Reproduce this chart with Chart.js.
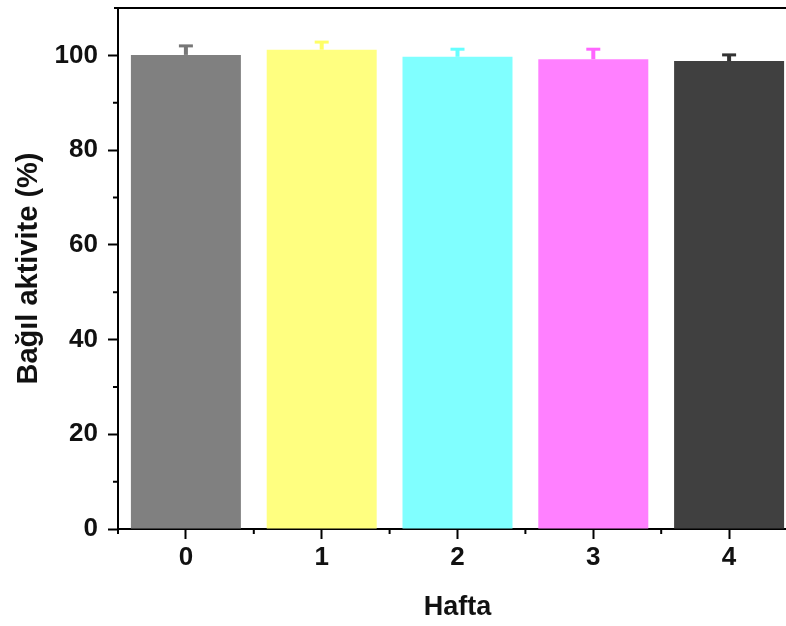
<!DOCTYPE html>
<html>
<head>
<meta charset="utf-8">
<script src="https://cdn.jsdelivr.net/npm/chart.js@4"></script>
<style>
  html, body { margin: 0; padding: 0; background: #fff; }
  #wrap { width: 786px; height: 626px; overflow: hidden; }
</style>
</head>
<body>
<div id="wrap"><canvas id="activityChart" width="810" height="626"></canvas></div>
<script>
// weeks and relative activity
const weeks = ["0", "1", "2", "3", "4"];
const activity = [100.1, 101.2, 99.7, 99.2, 98.8];
const activityErr = [1.9, 1.6, 1.6, 2.1, 1.3];
const barColors = ["#808080", "#ffff80", "#80ffff", "#ff80ff", "#404040"];
const errColors = ["#777777", "#ffff66", "#66ffff", "#ff66ff", "#333333"];
const yTicks = [0, 20, 40, 60, 80, 100];
const yMinorTicks = [10, 30, 50, 70, 90];

const tickFont = { family: "'Liberation Sans', Arial, sans-serif", size: 26, weight: "bold", lineHeight: 1 };
const titleFont = { family: "'Liberation Sans', Arial, sans-serif", size: 27, weight: "bold", lineHeight: 1 };
const yTitleFont = { family: "'Liberation Sans', Arial, sans-serif", size: 29, weight: "bold", lineHeight: 1 };

// error bars (upper half only), minor ticks and top frame line
const extras = {
  id: "extras",
  afterDatasetsDraw(chart) {
    const ctx = chart.ctx;
    const y = chart.scales.y;
    const meta = chart.getDatasetMeta(0);
    ctx.save();
    meta.data.forEach((bar, i) => {
      const top = y.getPixelForValue(activity[i] + activityErr[i]);
      ctx.strokeStyle = errColors[i];
      ctx.lineWidth = 4;
      ctx.beginPath();
      ctx.moveTo(bar.x, bar.y);
      ctx.lineTo(bar.x, top);
      ctx.stroke();
      ctx.lineWidth = 3;
      ctx.beginPath();
      ctx.moveTo(bar.x - 7, top);
      ctx.lineTo(bar.x + 7, top);
      ctx.stroke();
    });
    ctx.restore();
  },
  afterDraw(chart) {
    const ctx = chart.ctx;
    const { left, right, top, bottom } = chart.chartArea;
    const x = chart.scales.x;
    const y = chart.scales.y;
    const step = x.getPixelForValue(1) - x.getPixelForValue(0);
    ctx.save();
    ctx.strokeStyle = "#000";
    ctx.lineWidth = 2;
    ctx.beginPath();
    ctx.moveTo(left - 4, top);
    ctx.lineTo(right, top);
    ctx.stroke();
    ctx.beginPath();
    yMinorTicks.forEach(v => {
      const py = y.getPixelForValue(v);
      ctx.moveTo(left, py);
      ctx.lineTo(left - 5, py);
    });
    for (let i = 0; i <= weeks.length; i++) {
      const px = x.getPixelForValue(0) + (i - 0.5) * step;
      ctx.moveTo(px, bottom);
      ctx.lineTo(px, bottom + 5);
    }
    ctx.stroke();
    ctx.restore();
  }
};

const ctx = document.getElementById("activityChart").getContext("2d");
new Chart(ctx, {
  type: "bar",
  data: {
    labels: weeks,
    datasets: [
      {
        data: activity,
        backgroundColor: barColors,
        borderWidth: 0,
        barPercentage: 0.81,
        categoryPercentage: 1
      }
    ]
  },
  options: {
    responsive: false,
    animation: false,
    layout: { padding: { left: 0, top: 8, right: 13, bottom: 0 } },
    plugins: {
      legend: { display: false },
      tooltip: { enabled: false }
    },
    scales: {
      x: {
        offset: true,
        afterFit: s => { s.height = 97; s.paddingLeft = 0; s.paddingRight = 0; },
        grid: { offset: false, drawOnChartArea: false, tickLength: 10, tickWidth: 2, tickColor: "#000" },
        border: { display: true, color: "#000", width: 2 },
        ticks: { color: "#111", font: tickFont, padding: 6, maxRotation: 0 },
        title: { display: true, text: "Hafta", color: "#111", font: titleFont, padding: { top: 0, bottom: 5 } }
      },
      y: {
        min: 0,
        max: 110,
        afterFit: s => { s.width = 118; s.paddingTop = 0; s.paddingBottom = 0; },
        afterBuildTicks: s => { s.ticks = yTicks.map(v => ({ value: v })); },
        grid: { drawOnChartArea: false, tickLength: 10, tickWidth: 2, tickColor: "#000" },
        border: { display: true, color: "#000", width: 2 },
        ticks: { color: "#111", font: tickFont, padding: 10 },
        title: { display: true, text: "Bağıl aktivite (%)", color: "#111", font: yTitleFont, padding: { top: 14, bottom: 0 } }
      }
    }
  },
  plugins: [extras]
});
</script>
</body>
</html>
